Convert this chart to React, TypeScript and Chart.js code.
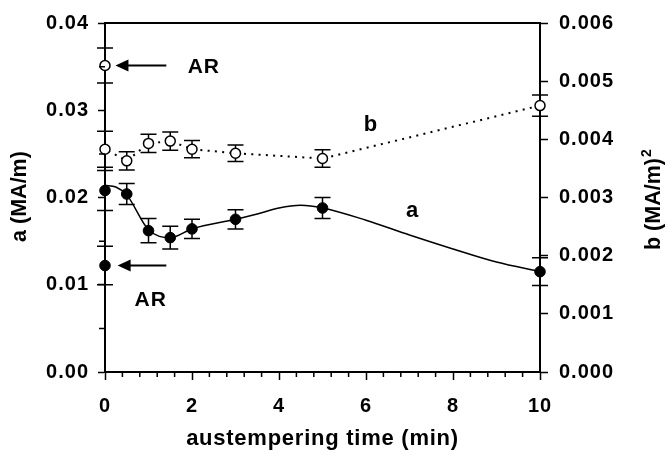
import React, { useEffect, useRef } from 'react';
import { Chart, registerables } from 'chart.js';

Chart.register(...registerables);

// ---- data ----
const times = [0, 0.5, 1, 1.5, 2, 3, 5, 10];
const aValues = [0.0208, 0.0204, 0.0162, 0.0154, 0.0164, 0.0175, 0.0188, 0.0115];
const aErrors = [0.0023, 0.0012, 0.0014, 0.0013, 0.0011, 0.0011, 0.0012, 0.0016];
const bValues = [0.00383, 0.00363, 0.00393, 0.00397, 0.00383, 0.00376, 0.00367, 0.00458];
const bErrors = [0.00031, 0.000156, 0.000156, 0.000156, 0.000148, 0.000141, 0.00015, 0.000184];

// as-received (AR) points
const arTime = 0;
const aAR = 0.0122;
const aARError = 0.0022;
const bAR = 0.00527;
const bARError = 0.0003;

// fitted curve through the "a" series
const fitTimes = [0, 0.25, 0.5, 1, 1.5, 2, 3, 3.5, 4, 4.5, 5, 6, 7, 8, 9, 10];
const fitA = [0.0214, 0.0212, 0.0203, 0.0163, 0.0154, 0.0164, 0.0175, 0.0181, 0.0188, 0.0191, 0.0188, 0.0174, 0.0157, 0.0141, 0.0126, 0.0115];

// ticks
const xTickValues = [0, 2, 4, 6, 8, 10];
const xTickLabels = ['0', '2', '4', '6', '8', '10'];
const aTickValues = [0, 0.01, 0.02, 0.03, 0.04];
const aTickLabels = ['0.00', '0.01', '0.02', '0.03', '0.04'];
const bTickValues = [0, 0.001, 0.002, 0.003, 0.004, 0.005, 0.006];
const bTickLabels = ['0.000', '0.001', '0.002', '0.003', '0.004', '0.005', '0.006'];
const xMinorStep = 0.4;
const aMinorValues = [0.005, 0.015, 0.025, 0.035];

// text labels and arrows (data coordinates)
const textLabels = [
  { text: 'AR', x: 1.9, y: 0.005133, axis: 'y2', size: 21 },
  { text: 'AR', x: 0.68, y: 0.00755, axis: 'y', size: 21 },
  { text: 'b', x: 5.95, y: 0.004142, axis: 'y2', size: 22 },
  { text: 'a', x: 6.92, y: 0.01778, axis: 'y', size: 22 },
];
const arrows = [
  { from: 1.41, to: 0.24, y: bAR, axis: 'y2' },
  { from: 1.41, to: 0.29, y: aAR, axis: 'y' },
];

const xTitle = 'austempering time (min)';
const aTitle = 'a (MA/m)';
const bTitle = 'b (MA/m)';
const bTitleSup = '2';

const FONT = '"Liberation Sans", Arial, Helvetica, sans-serif';

export default function App() {
  const ref = useRef<HTMLCanvasElement>(null);

  useEffect(() => {
    const canvas = ref.current;
    if (!canvas) return;

    const decor = {
      id: 'decor',
      beforeDraw(chart: any) {
        chart.ctx.letterSpacing = '1px';
      },
      beforeDatasetsDraw(chart: any) {
        const ctx = chart.ctx;
        const xs = chart.scales.x;
        const ya = chart.scales.y;
        const yb = chart.scales.y2;
        ctx.save();
        ctx.strokeStyle = '#000';
        ctx.lineWidth = 1.5;
        const bar = (xv: number, v: number, e: number, sc: any) => {
          const px = xs.getPixelForValue(xv);
          const top = sc.getPixelForValue(v + e);
          const bot = sc.getPixelForValue(v - e);
          ctx.beginPath();
          ctx.moveTo(px, top);
          ctx.lineTo(px, bot);
          ctx.moveTo(px - 8, top);
          ctx.lineTo(px + 8, top);
          ctx.moveTo(px - 8, bot);
          ctx.lineTo(px + 8, bot);
          ctx.stroke();
        };
        times.forEach((t, i) => {
          bar(t, aValues[i], aErrors[i], ya);
          bar(t, bValues[i], bErrors[i], yb);
        });
        bar(arTime, aAR, aARError, ya);
        bar(arTime, bAR, bARError, yb);
        ctx.restore();
      },
      afterDraw(chart: any) {
        const ctx = chart.ctx;
        const xs = chart.scales.x;
        const ya = chart.scales.y;
        const yb = chart.scales.y2;
        const area = chart.chartArea;
        ctx.save();
        ctx.strokeStyle = '#000';
        ctx.fillStyle = '#000';

        // top frame line
        ctx.lineWidth = 2;
        ctx.beginPath();
        ctx.moveTo(area.left - 1, area.top);
        ctx.lineTo(area.right + 1, area.top);
        ctx.stroke();

        // minor ticks
        ctx.lineWidth = 1.5;
        ctx.beginPath();
        const n = Math.round((xs.max - xs.min) / xMinorStep);
        for (let i = 1; i < n; i++) {
          if (i % 5 === 0) continue;
          const px = xs.getPixelForValue(xs.min + i * xMinorStep);
          ctx.moveTo(px, area.bottom);
          ctx.lineTo(px, area.bottom + 5);
        }
        aMinorValues.forEach((v) => {
          const py = ya.getPixelForValue(v);
          ctx.moveTo(area.left - 6, py);
          ctx.lineTo(area.left, py);
        });
        ctx.stroke();

        // arrows
        arrows.forEach((a) => {
          const sc = a.axis === 'y' ? ya : yb;
          const py = sc.getPixelForValue(a.y);
          const x1 = xs.getPixelForValue(a.from);
          const x0 = xs.getPixelForValue(a.to);
          ctx.lineWidth = 2;
          ctx.beginPath();
          ctx.moveTo(x1, py);
          ctx.lineTo(x0 + 10, py);
          ctx.stroke();
          ctx.beginPath();
          ctx.moveTo(x0, py);
          ctx.lineTo(x0 + 13, py - 6);
          ctx.lineTo(x0 + 13, py + 6);
          ctx.closePath();
          ctx.fill();
        });

        // text labels
        ctx.textAlign = 'left';
        ctx.textBaseline = 'alphabetic';
        ctx.letterSpacing = '1px';
        textLabels.forEach((t) => {
          const sc = t.axis === 'y' ? ya : yb;
          ctx.font = `bold ${t.size}px ${FONT}`;
          ctx.fillText(t.text, xs.getPixelForValue(t.x), sc.getPixelForValue(t.y));
        });

        // x title
        ctx.font = `bold 22px ${FONT}`;
        ctx.letterSpacing = '0.75px';
        ctx.textAlign = 'center';
        ctx.fillText(xTitle, (area.left + area.right) / 2, area.bottom + 73.3);

        // left title (rotated, reads bottom to top)
        ctx.letterSpacing = '0px';
        ctx.font = `bold 21.5px ${FONT}`;
        ctx.save();
        ctx.translate(area.left - 79, (area.top + area.bottom) / 2 - 1);
        ctx.rotate(-Math.PI / 2);
        ctx.textAlign = 'center';
        ctx.fillText(aTitle, 0, 0);
        ctx.restore();

        // right title (rotated, reads bottom to top) with superscript
        ctx.save();
        ctx.translate(area.right + 119.5, 250);
        ctx.rotate(-Math.PI / 2);
        ctx.textAlign = 'left';
        ctx.font = `bold 21.5px ${FONT}`;
        ctx.fillText(bTitle, 0, 0);
        const w = ctx.measureText(bTitle).width;
        ctx.font = `bold 14px ${FONT}`;
        ctx.fillText(bTitleSup, w + 1, -9);
        ctx.restore();

        ctx.restore();
      },
    };

    const tickFont = { family: FONT, size: 20, weight: 'bold' as const };

    const chart = new Chart(canvas, {
      type: 'scatter',
      data: {
        datasets: [
          {
            label: 'a fit',
            data: fitTimes.map((t, i) => ({ x: t, y: fitA[i] })),
            yAxisID: 'y',
            showLine: true,
            borderColor: '#000',
            borderWidth: 1.5,
            pointRadius: 0,
            cubicInterpolationMode: 'monotone',
            clip: false,
            order: 3,
          } as any,
          {
            label: 'b line',
            data: [{ x: arTime, y: bAR }, ...times.map((t, i) => ({ x: t, y: bValues[i] }))],
            yAxisID: 'y2',
            showLine: true,
            borderColor: '#000',
            borderWidth: 2,
            borderDash: [2, 5.3],
            pointRadius: 0,
            tension: 0,
            clip: false,
            order: 3,
          } as any,
          {
            label: 'a',
            data: [{ x: arTime, y: aAR }, ...times.map((t, i) => ({ x: t, y: aValues[i] }))],
            yAxisID: 'y',
            showLine: false,
            pointRadius: 5.3,
            pointBorderWidth: 1,
            pointBackgroundColor: '#000',
            pointBorderColor: '#000',
            clip: false,
            order: 0,
          } as any,
          {
            label: 'b',
            data: [{ x: arTime, y: bAR }, ...times.map((t, i) => ({ x: t, y: bValues[i] }))],
            yAxisID: 'y2',
            showLine: false,
            pointRadius: 5,
            pointBorderWidth: 1.5,
            pointBackgroundColor: '#fff',
            pointBorderColor: '#000',
            clip: false,
            order: 0,
          } as any,
        ],
      },
      options: {
        animation: false,
        responsive: false,
        devicePixelRatio: 1,
        events: [],
        layout: { padding: { top: 19, left: 0, right: 0, bottom: 0 }, autoPadding: false },
        plugins: { legend: { display: false }, tooltip: { enabled: false } },
        scales: {
          x: {
            type: 'linear',
            position: 'bottom',
            min: 0,
            max: 10,
            afterBuildTicks: (s: any) => {
              s.ticks = xTickValues.map((v) => ({ value: v }));
            },
            ticks: {
              color: '#000',
              font: tickFont,
              padding: 14,
              maxRotation: 0,
              autoSkip: false,
              callback: (_v: any, i: number) => xTickLabels[i],
            },
            grid: { drawOnChartArea: false, tickLength: 8, tickColor: '#000', tickWidth: 1.5 },
            border: { color: '#000', width: 2 },
            afterFit: (s: any) => {
              s.height = 92;
            },
          },
          y: {
            type: 'linear',
            position: 'left',
            min: 0,
            max: 0.04,
            afterBuildTicks: (s: any) => {
              s.ticks = aTickValues.map((v) => ({ value: v }));
            },
            ticks: {
              color: '#000',
              font: tickFont,
              padding: 9,
              autoSkip: false,
              callback: (_v: any, i: number) => aTickLabels[i],
            },
            grid: { drawOnChartArea: false, tickLength: 7, tickColor: '#000', tickWidth: 1.5 },
            border: { color: '#000', width: 2 },
            afterFit: (s: any) => {
              s.width = 105;
            },
          },
          y2: {
            type: 'linear',
            position: 'right',
            min: 0,
            max: 0.006,
            afterBuildTicks: (s: any) => {
              s.ticks = bTickValues.map((v) => ({ value: v }));
            },
            ticks: {
              color: '#000',
              font: tickFont,
              padding: 11,
              autoSkip: false,
              callback: (_v: any, i: number) => bTickLabels[i],
            },
            grid: { drawOnChartArea: false, tickLength: 8, tickColor: '#000', tickWidth: 1.5 },
            border: { color: '#000', width: 2 },
            afterFit: (s: any) => {
              s.width = 126;
            },
          },
        },
      } as any,
      plugins: [decor],
    });

    return () => {
      chart.destroy();
    };
  }, []);

  return (
    <div style={{ position: 'fixed', left: 0, top: 0, width: 666, height: 464, background: '#fff' }}>
      <canvas ref={ref} width={666} height={464} style={{ display: 'block', width: 666, height: 464 }} />
    </div>
  );
}
